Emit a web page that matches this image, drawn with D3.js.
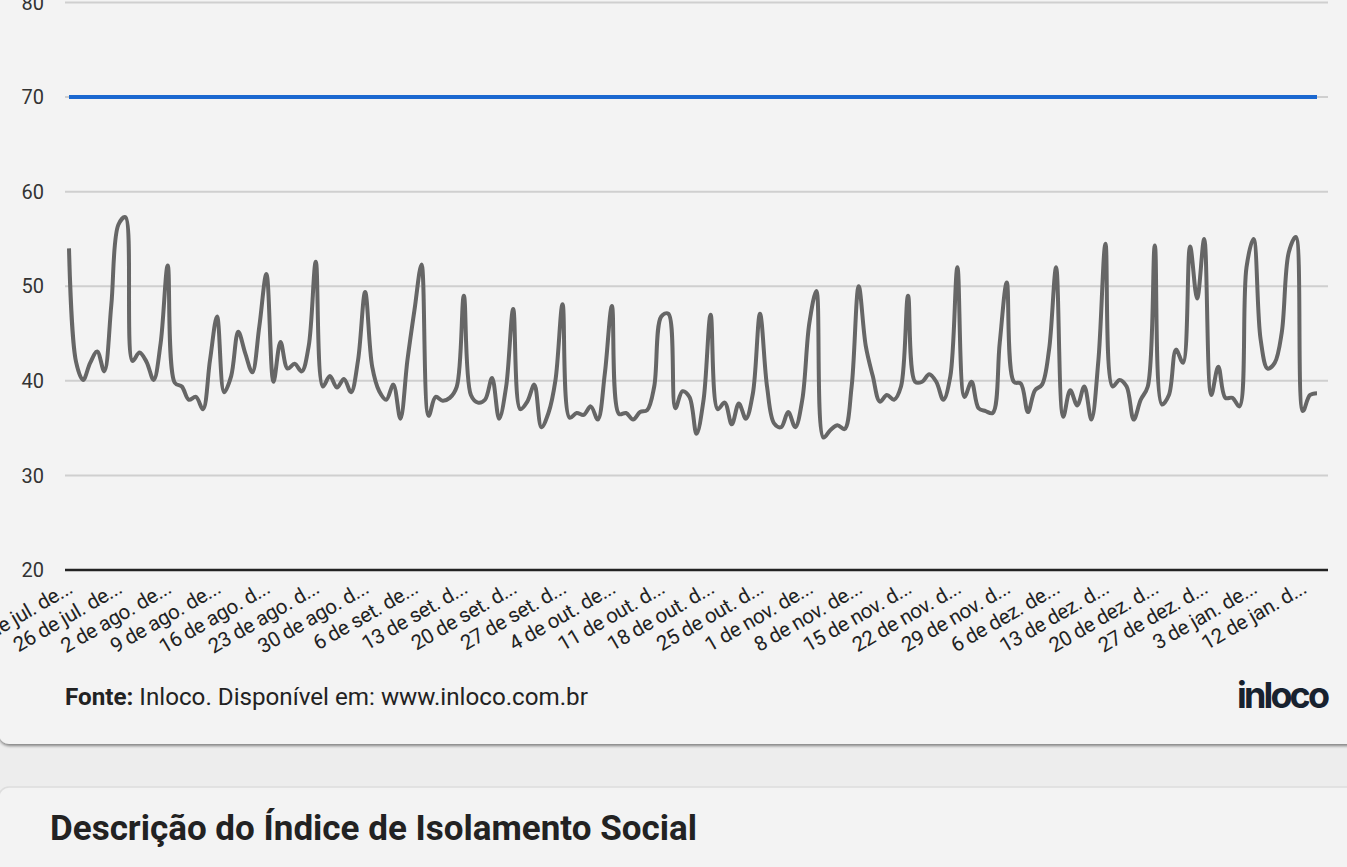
<!DOCTYPE html>
<html>
<head>
<meta charset="utf-8">
<script src="https://cdn.jsdelivr.net/npm/d3@7"></script>
<style>
body { margin: 0; background: #ededed; overflow: hidden; }
text { font-family: Roboto, "Noto Sans", sans-serif; }
</style>
</head>
<body>
<svg id="chart" width="1347" height="867"></svg>
<script>
// tick labels, one for every 7th day
var tick_labels = [
    "19 de jul. de...", "26 de jul. de...", "2 de ago. de...", "9 de ago. de...",
    "16 de ago. d...", "23 de ago. d...", "30 de ago. d...", "6 de set. de...",
    "13 de set. d...", "20 de set. d...", "27 de set. d...", "4 de out. de...",
    "11 de out. d...", "18 de out. d...", "25 de out. d...", "1 de nov. de...",
    "8 de nov. de...", "15 de nov. d...", "22 de nov. d...", "29 de nov. d...",
    "6 de dez. de...", "13 de dez. d...", "20 de dez. d...", "27 de dez. d...",
    "3 de jan. de...", "12 de jan. d..."
];
var tick_every = 7;

// social isolation index (%), daily
var isolation_index = [
    54.0, 42.0, 40.1, 41.9, 43.1, 41.0, 48.0, 56.5, 57.3, 42.1,
    43.0, 42.0, 40.1, 44.0, 52.2, 39.8, 39.4, 38.0, 38.3, 37.0,
    42.2, 46.8, 38.8, 40.5, 45.2, 42.9, 40.9, 45.8, 51.3, 39.9,
    44.1, 41.3, 41.8, 41.0, 43.7, 52.6, 39.4, 40.5, 39.3, 40.2,
    38.8, 42.2, 49.4, 41.5, 38.9, 38.0, 39.6, 36.0, 42.2, 47.5,
    52.3, 36.3, 38.3, 37.9, 38.2, 39.4, 49.0, 38.5, 37.7, 38.0,
    40.3, 36.0, 39.4, 47.6, 37.0, 37.8, 39.6, 35.1, 36.6, 40.1,
    48.1, 36.1, 36.6, 36.4, 37.3, 35.9, 40.8, 47.9, 36.5, 36.6,
    35.9, 36.7, 36.9, 39.4, 46.8, 47.1, 37.1, 38.9, 38.3, 34.4,
    38.0, 47.0, 37.0, 37.7, 35.4, 37.6, 36.0, 38.7, 47.1, 39.4,
    35.5, 35.1, 36.7, 35.1, 38.0, 46.1, 49.5, 34.0, 34.8, 35.3,
    34.9, 39.4, 50.0, 43.7, 40.5, 37.8, 38.5, 38.0, 39.4, 49.0,
    39.9, 39.9, 40.7, 39.9, 38.0, 40.5, 52.0, 38.3, 39.9, 37.1,
    36.8, 36.6, 44.0, 50.4, 39.9, 39.7, 36.7, 39.0, 39.6, 43.3,
    52.0, 36.2, 39.0, 37.4, 39.4, 35.9, 42.2, 54.5, 39.4, 40.1,
    39.4, 35.9, 38.0, 39.4, 54.3, 37.5, 38.5, 43.3, 41.9, 54.2,
    48.7, 55.0, 38.5, 41.5, 38.2, 38.2, 37.3, 52.0, 55.0, 44.4,
    41.3, 41.9, 45.1, 53.6, 55.2, 36.8, 38.5, 38.7
];

var target_level = 70;
var y_ticks = [20, 30, 40, 50, 60, 70, 80];

var source_bold = "Fonte:";
var source_text = " Inloco. Disponível em: www.inloco.com.br";
var logo_text = "inloco";
var section_title = "Descrição do Índice de Isolamento Social";

var svg = d3.select("#chart");

// panel shadow
var defs = svg.append("defs");
var shadow = defs.append("filter")
    .attr("id", "panel_shadow")
    .attr("x", "-5%").attr("y", "-5%")
    .attr("width", "110%").attr("height", "110%");
shadow.append("feDropShadow")
    .attr("dx", 0).attr("dy", 2)
    .attr("stdDeviation", 1.5)
    .attr("flood-color", "#000")
    .attr("flood-opacity", 0.45);

svg.append("rect")
    .attr("x", -1).attr("y", -20)
    .attr("width", 1370).attr("height", 764)
    .attr("rx", 10)
    .attr("fill", "#f3f3f3")
    .attr("filter", "url(#panel_shadow)");

svg.append("rect")
    .attr("x", -1).attr("y", 787)
    .attr("width", 1370).attr("height", 200)
    .attr("rx", 10)
    .attr("fill", "#f3f3f3")
    .attr("stroke", "#dddddd")
    .attr("stroke-width", 1.5);

var x = d3.scalePoint()
    .domain(d3.range(isolation_index.length))
    .range([69, 1317]);

var y = d3.scaleLinear()
    .domain([20, 80])
    .range([570, 2.5]);

// gridlines
svg.append("g")
    .selectAll("line")
    .data(y_ticks.filter(function(d) { return d !== 20; }))
    .enter()
    .append("line")
    .attr("x1", 65).attr("x2", 1328)
    .attr("y1", function(d) { return y(d); })
    .attr("y2", function(d) { return y(d); })
    .attr("stroke", "#cfcfcf")
    .attr("stroke-width", 2);

// y tick labels
svg.append("g")
    .selectAll("text")
    .data(y_ticks)
    .enter()
    .append("text")
    .attr("x", 44)
    .attr("y", function(d) { return y(d); })
    .attr("dy", "0.36em")
    .attr("text-anchor", "end")
    .attr("fill", "#333")
    .style("font-size", "20px")
    .text(function(d) { return d; });

// baseline
svg.append("line")
    .attr("x1", 65).attr("x2", 1328)
    .attr("y1", y(20)).attr("y2", y(20))
    .attr("stroke", "#222")
    .attr("stroke-width", 2.5);

// x tick labels
var tick_idx = tick_labels.map(function(d, i) { return i * tick_every; });
svg.append("g")
    .selectAll("text")
    .data(tick_idx)
    .enter()
    .append("text")
    .attr("transform", function(d) {
        return "translate(" + (x(d) + 5) + ",592) rotate(-30)";
    })
    .attr("text-anchor", "end")
    .attr("fill", "#222")
    .style("font-size", "20.5px")
    .style("letter-spacing", "-0.3px")
    .text(function(d, i) { return tick_labels[i]; });

// target line at 70
svg.append("path")
    .datum(isolation_index.map(function(d, i) { return i; }))
    .attr("d", d3.line()
        .x(function(d) { return x(d); })
        .y(function() { return y(target_level); }))
    .attr("fill", "none")
    .attr("stroke", "#1b68d0")
    .attr("stroke-width", 4);

// index line
svg.append("path")
    .datum(isolation_index)
    .attr("d", d3.line()
        .x(function(d, i) { return x(i); })
        .y(function(d) { return y(d); })
        .curve(d3.curveCatmullRom.alpha(0.5)))
    .attr("fill", "none")
    .attr("stroke", "#666")
    .attr("stroke-width", 4)
    .attr("stroke-linejoin", "round");

// footer
var src = svg.append("text")
    .attr("x", 65).attr("y", 705)
    .attr("fill", "#222")
    .style("font-size", "24.2px");
src.append("tspan").style("font-weight", "bold").text(source_bold);
src.append("tspan").text(source_text);

svg.append("text")
    .attr("x", 1237).attr("y", 708)
    .attr("textLength", 93)
    .attr("lengthAdjust", "spacing")
    .attr("fill", "#18222f")
    .style("font-family", "Inter, sans-serif")
    .style("font-weight", "bold")
    .style("font-size", "36px")
    .text(logo_text);

svg.append("text")
    .attr("x", 50).attr("y", 840)
    .attr("fill", "#222")
    .style("font-weight", "bold")
    .style("font-size", "35px")
    .text(section_title);
</script>
</body>
</html>
